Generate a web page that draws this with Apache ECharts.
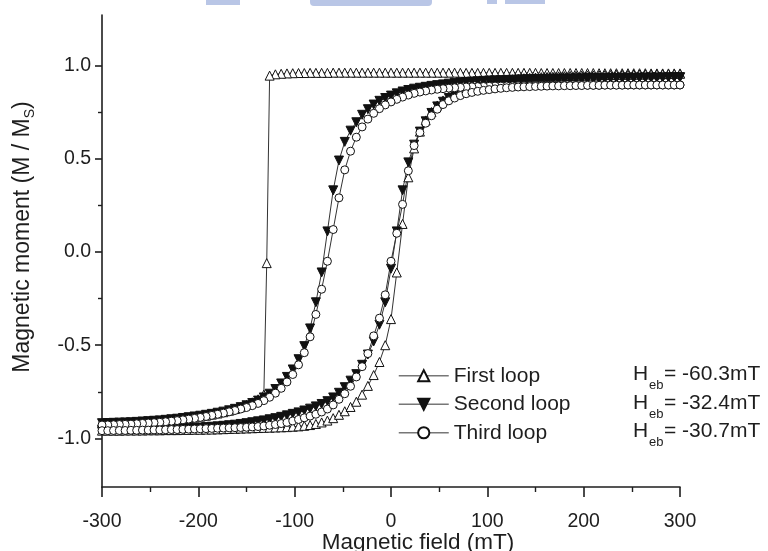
<!DOCTYPE html>
<html>
<head>
<meta charset="utf-8">
<script src="https://cdn.jsdelivr.net/npm/echarts@6.0.0/dist/echarts.min.js"></script>
<style>
html,body{margin:0;padding:0;background:#fff;}
#main{width:768px;height:551px;}
</style>
</head>
<body>
<div id="main"></div>
<script>
// ---------- DATA ----------
// Applied field (mT), shared by most branches
const fieldGrid = [
-300,-294,-288,-282,-276,-270,-264,-258,-252,-246,
-240,-234,-228,-222,-216,-210,-204,-198,-192,-186,
-180,-174,-168,-162,-156,-150,-144,-138,-132,-126,
-120,-114,-108,-102,-96,-90,-84,-78,-72,-66,
-60,-54,-48,-42,-36,-30,-24,-18,-12,-6,
0,6,12,18,24,30,36,42,48,54,
60,66,72,78,84,90,96,102,108,114,
120,126,132,138,144,150,156,162,168,174,
180,186,192,198,204,210,216,222,228,234,
240,246,252,258,264,270,276,282,288,294,
300];

// First loop, decreasing-field branch (has an extra point on the jump)
const firstDownField = [
-300,-294,-288,-282,-276,-270,-264,-258,-252,-246,
-240,-234,-228,-222,-216,-210,-204,-198,-192,-186,
-180,-174,-168,-162,-156,-150,-144,-138,-132,-129,
-126,-120,-114,-108,-102,-96,-90,-84,-78,-72,
-66,-60,-54,-48,-42,-36,-30,-24,-18,-12,
-6,0,6,12,18,24,30,36,42,48,
54,60,66,72,78,84,90,96,102,108,
114,120,126,132,138,144,150,156,162,168,
174,180,186,192,198,204,210,216,222,228,
234,240,246,252,258,264,270,276,282,288,
294,300];
const firstDown = [
-0.920,-0.919,-0.918,-0.917,-0.916,-0.915,-0.913,-0.912,-0.910,-0.908,
-0.906,-0.904,-0.901,-0.898,-0.895,-0.891,-0.887,-0.883,-0.878,-0.872,
-0.866,-0.859,-0.851,-0.842,-0.832,-0.820,-0.806,-0.790,-0.765,-0.060,
0.945,0.952,0.955,0.957,0.958,0.959,0.959,0.960,0.960,0.960,
0.960,0.961,0.961,0.961,0.961,0.961,0.961,0.961,0.961,0.961,
0.961,0.961,0.961,0.961,0.961,0.961,0.961,0.961,0.961,0.961,
0.961,0.961,0.961,0.960,0.960,0.960,0.960,0.960,0.960,0.960,
0.960,0.960,0.960,0.960,0.960,0.960,0.960,0.959,0.959,0.959,
0.959,0.959,0.959,0.959,0.959,0.959,0.959,0.958,0.958,0.958,
0.958,0.958,0.958,0.958,0.958,0.958,0.957,0.957,0.957,0.957,
0.957,0.957];
// First loop, increasing-field branch
const firstUp = [
-0.958,-0.958,-0.958,-0.958,-0.957,-0.957,-0.957,-0.957,-0.956,-0.956,
-0.956,-0.955,-0.955,-0.955,-0.954,-0.954,-0.953,-0.953,-0.952,-0.952,
-0.951,-0.950,-0.949,-0.948,-0.947,-0.946,-0.945,-0.944,-0.943,-0.942,
-0.941,-0.940,-0.939,-0.937,-0.935,-0.932,-0.928,-0.922,-0.914,-0.904,
-0.891,-0.873,-0.854,-0.831,-0.803,-0.765,-0.718,-0.660,-0.590,-0.500,
-0.360,-0.110,0.150,0.400,0.555,0.645,0.705,0.750,0.785,0.812,
0.834,0.852,0.867,0.879,0.889,0.897,0.904,0.910,0.915,0.919,
0.923,0.926,0.929,0.931,0.933,0.935,0.937,0.938,0.939,0.941,
0.942,0.943,0.944,0.945,0.946,0.946,0.947,0.948,0.948,0.949,
0.950,0.950,0.951,0.951,0.952,0.952,0.953,0.953,0.954,0.954,
0.955];
// Second loop
const secondDown = [
-0.918,-0.917,-0.916,-0.915,-0.914,-0.913,-0.911,-0.909,-0.907,-0.905,
-0.903,-0.900,-0.897,-0.894,-0.890,-0.886,-0.882,-0.878,-0.873,-0.868,
-0.862,-0.856,-0.849,-0.841,-0.832,-0.822,-0.810,-0.797,-0.780,-0.760,
-0.735,-0.705,-0.670,-0.630,-0.575,-0.505,-0.410,-0.270,-0.110,0.110,
0.330,0.490,0.590,0.650,0.695,0.735,0.765,0.790,0.810,0.825,
0.838,0.850,0.860,0.868,0.875,0.880,0.885,0.890,0.894,0.898,
0.902,0.905,0.908,0.911,0.913,0.915,0.917,0.919,0.920,0.921,
0.922,0.923,0.924,0.925,0.926,0.927,0.927,0.928,0.929,0.929,
0.930,0.930,0.931,0.931,0.932,0.932,0.932,0.933,0.933,0.933,
0.934,0.934,0.934,0.934,0.935,0.935,0.935,0.935,0.936,0.936,
0.936];
const secondUp = [
-0.955,-0.955,-0.955,-0.954,-0.954,-0.953,-0.953,-0.952,-0.952,-0.951,
-0.950,-0.949,-0.948,-0.947,-0.946,-0.945,-0.943,-0.941,-0.939,-0.937,
-0.935,-0.932,-0.929,-0.926,-0.922,-0.918,-0.913,-0.908,-0.903,-0.897,
-0.891,-0.884,-0.876,-0.868,-0.860,-0.850,-0.840,-0.828,-0.815,-0.800,
-0.780,-0.755,-0.725,-0.690,-0.655,-0.605,-0.550,-0.480,-0.390,-0.270,
-0.090,0.110,0.330,0.480,0.575,0.645,0.700,0.745,0.780,0.805,
0.825,0.840,0.852,0.862,0.870,0.877,0.883,0.888,0.892,0.896,
0.900,0.903,0.906,0.909,0.911,0.913,0.915,0.917,0.919,0.920,
0.922,0.923,0.924,0.925,0.926,0.927,0.928,0.929,0.930,0.930,
0.931,0.932,0.932,0.933,0.933,0.934,0.934,0.935,0.935,0.936,
0.936];
// Third loop
const thirdDown = [
-0.928,-0.927,-0.926,-0.925,-0.924,-0.923,-0.921,-0.919,-0.917,-0.915,
-0.913,-0.910,-0.907,-0.904,-0.900,-0.896,-0.892,-0.887,-0.882,-0.876,
-0.870,-0.864,-0.857,-0.850,-0.842,-0.834,-0.824,-0.812,-0.797,-0.779,
-0.757,-0.731,-0.697,-0.657,-0.605,-0.540,-0.455,-0.335,-0.200,-0.050,
0.120,0.290,0.440,0.540,0.615,0.670,0.712,0.743,0.768,0.788,
0.804,0.818,0.830,0.841,0.850,0.857,0.863,0.868,0.872,0.875,
0.878,0.880,0.882,0.884,0.885,0.886,0.887,0.888,0.889,0.889,
0.890,0.890,0.891,0.891,0.891,0.892,0.892,0.892,0.893,0.893,
0.893,0.893,0.894,0.894,0.894,0.894,0.894,0.895,0.895,0.895,
0.895,0.895,0.895,0.895,0.895,0.895,0.895,0.895,0.895,0.895,
0.895];
const thirdUp = [
-0.958,-0.958,-0.957,-0.957,-0.957,-0.956,-0.956,-0.955,-0.955,-0.954,
-0.954,-0.953,-0.952,-0.952,-0.951,-0.950,-0.949,-0.948,-0.947,-0.946,
-0.945,-0.944,-0.943,-0.942,-0.941,-0.940,-0.938,-0.936,-0.933,-0.929,
-0.925,-0.920,-0.914,-0.906,-0.898,-0.889,-0.880,-0.870,-0.858,-0.842,
-0.820,-0.790,-0.760,-0.720,-0.670,-0.615,-0.545,-0.450,-0.355,-0.230,
-0.050,0.100,0.255,0.435,0.570,0.640,0.690,0.730,0.765,0.790,
0.810,0.825,0.838,0.848,0.855,0.861,0.866,0.870,0.874,0.877,
0.880,0.882,0.884,0.885,0.886,0.887,0.888,0.889,0.890,0.890,
0.891,0.891,0.892,0.892,0.893,0.893,0.893,0.894,0.894,0.894,
0.894,0.895,0.895,0.895,0.895,0.895,0.895,0.895,0.895,0.895,
0.895];

const loopNames = ['First loop', 'Second loop', 'Third loop'];
const exchangeBias = ['-60.3mT', '-32.4mT', '-30.7mT'];
const xTickMin = -300, xTickMax = 300, xTickStep = 100;
const yMajorTicks = [-1, -0.5, 0, 0.5, 1];
const yMinorTicks = [-0.75, -0.25, 0.25, 0.75];

// ---------- CHART ----------
const FONT = '"Liberation Sans", Arial, Helvetica, sans-serif';
const INK = '#1e1e1e';

function loopData(downField, down, upField, up) {
  const pts = [];
  for (let i = down.length - 1; i >= 0; i--) pts.push([downField[i], down[i]]);
  for (let i = 0; i < up.length; i++) pts.push([upField[i], up[i]]);
  return pts;
}

const chart = echarts.init(document.getElementById('main'), null, {renderer: 'canvas'});

const grid = {left: 102, right: 88, top: 15, bottom: 64, containLabel: false, outerBoundsMode: 'none'};
const legendTop = 360, legendRow = 28.5;
const rowY0 = 374.5;

const hebTexts = [];
exchangeBias.forEach((v, i) => {
  const y = rowY0 + i * legendRow;
  hebTexts.push({type: 'text', x: 633, y: y, style: {text: 'H', fontSize: 21, fontFamily: FONT, fill: INK, verticalAlign: 'middle', align: 'left'}});
  hebTexts.push({type: 'text', x: 649, y: y + 11, style: {text: 'eb', fontSize: 13, fontFamily: FONT, fill: INK, verticalAlign: 'middle', align: 'left'}});
  hebTexts.push({type: 'text', x: 664, y: y, style: {text: '= ' + v, fontSize: 21, fontFamily: FONT, fill: INK, verticalAlign: 'middle', align: 'left'}});
});

const watermark = [
  {type: 'rect', shape: {x: 206, y: 0, width: 34, height: 5}, style: {fill: '#b9c6e6'}},
  {type: 'rect', shape: {x: 310, y: 0, width: 122, height: 6, r: [0, 0, 4, 4]}, style: {fill: '#b9c6e6'}},
  {type: 'rect', shape: {x: 487, y: 0, width: 10, height: 4}, style: {fill: '#b9c6e6'}},
  {type: 'rect', shape: {x: 505, y: 0, width: 40, height: 4}, style: {fill: '#b9c6e6'}}
];

const axisLineStyle = {color: INK, width: 1.6};

const option = {
  animation: false,
  backgroundColor: '#ffffff',
  grid: grid,
  legend: {
    data: loopNames,
    orient: 'vertical',
    left: 393,
    top: legendTop,
    itemWidth: 50,
    itemHeight: 14,
    itemGap: 7,
    selectedMode: false,
    lineStyle: {color: '#777', width: 1.5},
    textStyle: {fontSize: 21, fontFamily: FONT, color: INK, lineHeight: 21.5}
  },
  xAxis: {
    type: 'value',
    min: xTickMin,
    max: xTickMax,
    interval: xTickStep,
    axisLine: {show: true, onZero: false, lineStyle: axisLineStyle},
    axisTick: {show: true, length: 10, lineStyle: axisLineStyle},
    minorTick: {show: true, splitNumber: 2, length: 5, lineStyle: {color: INK, width: 1.4}},
    splitLine: {show: false},
    minorSplitLine: {show: false},
    axisLabel: {fontSize: 19.5, fontFamily: FONT, color: INK, margin: 25},
    name: 'Magnetic field (mT)',
    nameLocation: 'middle',
    nameGap: 44,
    nameMoveOverlap: false,
    nameTextStyle: {fontSize: 22.5, fontFamily: FONT, color: INK, padding: [0, 0, 0, 54]}
  },
  yAxis: [
    {
      type: 'value',
      min: -1.26,
      max: 1.27,
      position: 'left',
      axisLine: {show: true, onZero: false, lineStyle: axisLineStyle},
      axisTick: {show: true, length: 7, customValues: yMajorTicks, lineStyle: axisLineStyle},
      axisLabel: {
        customValues: yMajorTicks,
        formatter: v => v.toFixed(1),
        fontSize: 19.5, fontFamily: FONT, color: INK, margin: 11
      },
      splitLine: {show: false},
      name: '{t|Magnetic moment (M / M}{s|S}{t|)}',
      nameLocation: 'middle',
      nameGap: 65,
      nameMoveOverlap: false,
      nameTextStyle: {
        padding: [0, 0, 0, 28],
        rich: {
          t: {fontSize: 23, fontFamily: FONT, color: INK},
          s: {fontSize: 14, fontFamily: FONT, color: INK, padding: [14, 0, 0, 0]}
        }
      }
    },
    {
      type: 'value',
      min: -1.26,
      max: 1.27,
      position: 'left',
      axisLine: {show: false, onZero: false},
      axisTick: {show: true, length: 4, customValues: yMinorTicks, lineStyle: {color: INK, width: 1.4}},
      axisLabel: {show: false},
      splitLine: {show: false}
    }
  ],
  graphic: watermark.concat(hebTexts),
  series: [
    {
      name: loopNames[0],
      type: 'line',
      data: loopData(firstDownField, firstDown, fieldGrid, firstUp),
      symbol: 'triangle',
      symbolSize: 9,
      showAllSymbol: true,
      lineStyle: {color: '#333', width: 1},
      itemStyle: {color: '#ffffff', borderColor: '#111', borderWidth: 1}
    },
    {
      name: loopNames[1],
      type: 'line',
      data: loopData(fieldGrid, secondDown, fieldGrid, secondUp),
      symbol: 'triangle',
      symbolRotate: 180,
      symbolSize: 9,
      showAllSymbol: true,
      lineStyle: {color: '#333', width: 1},
      itemStyle: {color: '#111', borderColor: '#111', borderWidth: 1}
    },
    {
      name: loopNames[2],
      type: 'line',
      data: loopData(fieldGrid, thirdDown, fieldGrid, thirdUp),
      symbol: 'circle',
      symbolSize: 8,
      showAllSymbol: true,
      lineStyle: {color: '#333', width: 1},
      itemStyle: {color: '#ffffff', borderColor: '#111', borderWidth: 1}
    }
  ]
};

chart.setOption(option);
</script>
</body>
</html>
